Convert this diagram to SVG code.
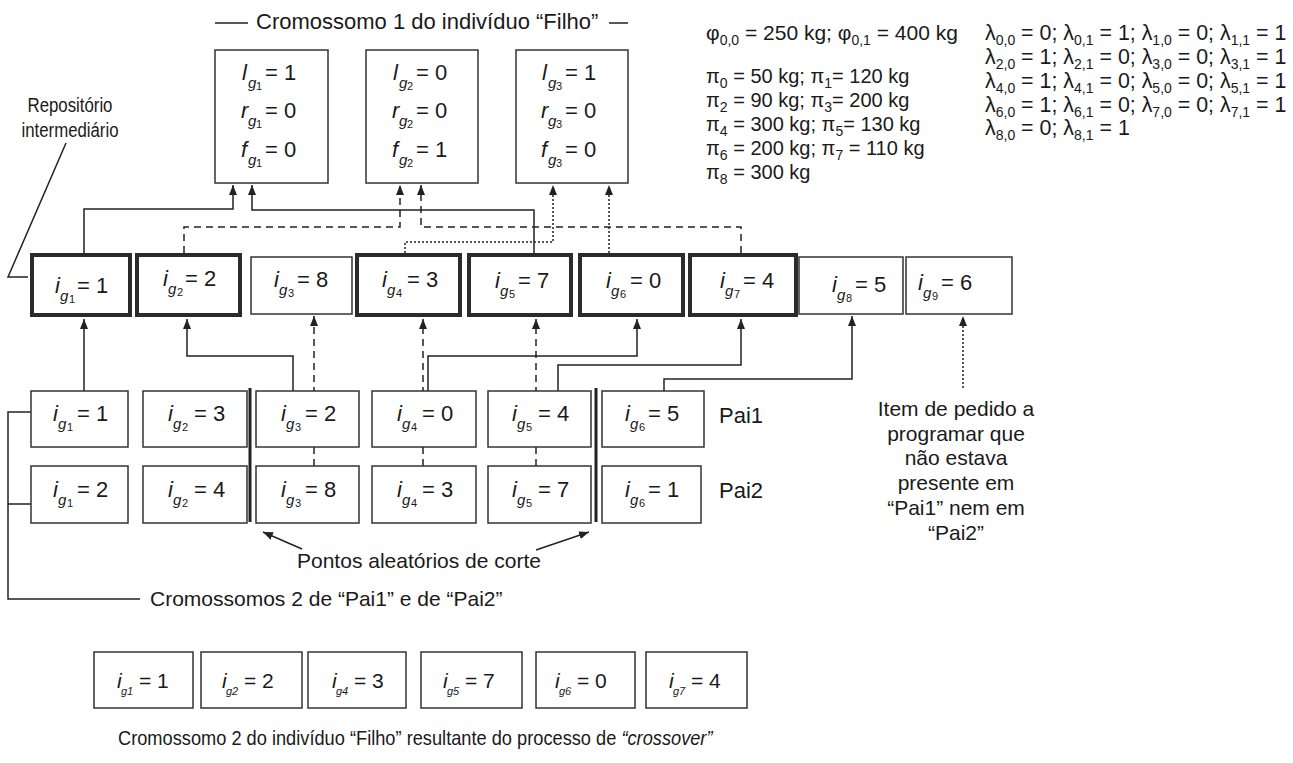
<svg xmlns="http://www.w3.org/2000/svg" width="1293" height="763" viewBox="0 0 1293 763">
<style>
.bg{fill:#fff}
.box{fill:#fff;stroke:#333;stroke-width:1.5}
.tbox{fill:#fff;stroke:#2b2b2b;stroke-width:4}
.t{font-family:"Liberation Sans",Arial,sans-serif;font-size:22px;fill:#1a1a1a}
.s{font-family:"Liberation Sans",Arial,sans-serif;font-size:21px;fill:#1a1a1a}
.f{font-family:"Liberation Sans",Arial,sans-serif;font-size:21px;fill:#1a1a1a}
.fp{font-family:"Liberation Sans",Arial,sans-serif;font-size:20px;fill:#1a1a1a}
.fl{font-family:"Liberation Sans",Arial,sans-serif;font-size:21.4px;fill:#1a1a1a}
.sub{font-size:14px}
.it{font-style:italic}
.sg{font-size:15px;font-style:italic}
.sd{font-size:11px}
.sb{font-size:11px;font-style:italic}
.c{fill:none;stroke:#222;stroke-width:1.5}
.ca{fill:none;stroke:#222;stroke-width:1.5;marker-end:url(#ah)}
.dash{stroke-dasharray:7 5}
.dot{stroke-dasharray:2 2}
.cut{stroke:#222;stroke-width:3}
</style>
<defs>
<marker id="ah" viewBox="0 0 10 8" refX="10" refY="4" markerWidth="10" markerHeight="8" markerUnits="userSpaceOnUse" orient="auto">
<path d="M0,0 L10,4 L0,8 z" fill="#222"/>
</marker>
</defs>
<rect class="bg" width="1293" height="763"/>

<g id="title1">
<path class="c" d="M215,23 H248 M609,23 H628"/>
<text class="t" x="256" y="29">Cromossomo 1 do indivíduo “Filho”</text>
</g>

<g id="filho-g1">
<rect class="box" x="215" y="50" width="113" height="133"/>
<text class="t"><tspan x="242" y="80" class="it">l</tspan><tspan x="248" y="88" class="sg">g</tspan><tspan x="256" y="90" class="sd">1</tspan><tspan x="265" y="80">= 1</tspan></text>
<text class="t"><tspan x="241" y="118" class="it">r</tspan><tspan x="248" y="126" class="sg">g</tspan><tspan x="256" y="128" class="sd">1</tspan><tspan x="265" y="118">= 0</tspan></text>
<text class="t"><tspan x="241" y="157" class="it">f</tspan><tspan x="248" y="165" class="sg">g</tspan><tspan x="256" y="167" class="sd">1</tspan><tspan x="265" y="157">= 0</tspan></text>
</g>
<g id="filho-g2">
<rect class="box" x="366" y="50" width="112" height="133"/>
<text class="t"><tspan x="393" y="80" class="it">l</tspan><tspan x="399" y="88" class="sg">g</tspan><tspan x="407" y="90" class="sd">2</tspan><tspan x="416" y="80">= 0</tspan></text>
<text class="t"><tspan x="392" y="118" class="it">r</tspan><tspan x="399" y="126" class="sg">g</tspan><tspan x="407" y="128" class="sd">2</tspan><tspan x="416" y="118">= 0</tspan></text>
<text class="t"><tspan x="392" y="157" class="it">f</tspan><tspan x="399" y="165" class="sg">g</tspan><tspan x="407" y="167" class="sd">2</tspan><tspan x="416" y="157">= 1</tspan></text>
</g>
<g id="filho-g3">
<rect class="box" x="516" y="50" width="112" height="133"/>
<text class="t"><tspan x="542" y="80" class="it">l</tspan><tspan x="548" y="88" class="sg">g</tspan><tspan x="556" y="90" class="sd">3</tspan><tspan x="565" y="80">= 1</tspan></text>
<text class="t"><tspan x="541" y="118" class="it">r</tspan><tspan x="548" y="126" class="sg">g</tspan><tspan x="556" y="128" class="sd">3</tspan><tspan x="565" y="118">= 0</tspan></text>
<text class="t"><tspan x="541" y="157" class="it">f</tspan><tspan x="548" y="165" class="sg">g</tspan><tspan x="556" y="167" class="sd">3</tspan><tspan x="565" y="157">= 0</tspan></text>
</g>

<g id="params">
<text class="f" x="706" y="40">φ<tspan class="sub" dy="5">0,0</tspan><tspan dy="-5"> = 250 kg; φ</tspan><tspan class="sub" dy="5">0,1</tspan><tspan dy="-5"> = 400 kg</tspan></text>
<text class="fp" x="706" y="83">π<tspan class="sub" dy="5">0</tspan><tspan dy="-5"> = 50 kg; π</tspan><tspan class="sub" dy="5">1</tspan><tspan dy="-5">= 120 kg</tspan></text>
<text class="fp" x="706" y="107">π<tspan class="sub" dy="5">2</tspan><tspan dy="-5"> = 90 kg; π</tspan><tspan class="sub" dy="5">3</tspan><tspan dy="-5">= 200 kg</tspan></text>
<text class="fp" x="706" y="131">π<tspan class="sub" dy="5">4</tspan><tspan dy="-5"> = 300 kg; π</tspan><tspan class="sub" dy="5">5</tspan><tspan dy="-5">= 130 kg</tspan></text>
<text class="fp" x="706" y="155">π<tspan class="sub" dy="5">6</tspan><tspan dy="-5"> = 200 kg; π</tspan><tspan class="sub" dy="5">7</tspan><tspan dy="-5"> = 110 kg</tspan></text>
<text class="fp" x="706" y="179">π<tspan class="sub" dy="5">8</tspan><tspan dy="-5"> = 300 kg</tspan></text>
<text class="fl" x="985" y="40">λ<tspan class="sub" dy="5">0,0</tspan><tspan dy="-5"> = 0; λ</tspan><tspan class="sub" dy="5">0,1</tspan><tspan dy="-5"> = 1; λ</tspan><tspan class="sub" dy="5">1,0</tspan><tspan dy="-5"> = 0; λ</tspan><tspan class="sub" dy="5">1,1</tspan><tspan dy="-5"> = 1</tspan></text>
<text class="fl" x="985" y="64">λ<tspan class="sub" dy="5">2,0</tspan><tspan dy="-5"> = 1; λ</tspan><tspan class="sub" dy="5">2,1</tspan><tspan dy="-5"> = 0; λ</tspan><tspan class="sub" dy="5">3,0</tspan><tspan dy="-5"> = 0; λ</tspan><tspan class="sub" dy="5">3,1</tspan><tspan dy="-5"> = 1</tspan></text>
<text class="fl" x="985" y="88">λ<tspan class="sub" dy="5">4,0</tspan><tspan dy="-5"> = 1; λ</tspan><tspan class="sub" dy="5">4,1</tspan><tspan dy="-5"> = 0; λ</tspan><tspan class="sub" dy="5">5,0</tspan><tspan dy="-5"> = 0; λ</tspan><tspan class="sub" dy="5">5,1</tspan><tspan dy="-5"> = 1</tspan></text>
<text class="fl" x="985" y="112">λ<tspan class="sub" dy="5">6,0</tspan><tspan dy="-5"> = 1; λ</tspan><tspan class="sub" dy="5">6,1</tspan><tspan dy="-5"> = 0; λ</tspan><tspan class="sub" dy="5">7,0</tspan><tspan dy="-5"> = 0; λ</tspan><tspan class="sub" dy="5">7,1</tspan><tspan dy="-5"> = 1</tspan></text>
<text class="fl" x="985" y="135">λ<tspan class="sub" dy="5">8,0</tspan><tspan dy="-5"> = 0; λ</tspan><tspan class="sub" dy="5">8,1</tspan><tspan dy="-5"> = 1</tspan></text>
</g>

<g id="repo-label">
<text class="s" transform="translate(70,112) scale(0.8,1)" text-anchor="middle">Repositório</text>
<text class="s" transform="translate(70,137) scale(0.8,1)" text-anchor="middle">intermediário</text>
<path class="c" d="M66,143 L8,277 H28"/>
</g>

<g id="connectors">
<path class="ca" d="M84,253 V209 H233 V185"/>
<path class="ca" d="M534,253 V210 H252 V185"/>
<path class="ca dash" d="M184,253 V227 H400 V185"/>
<path class="ca dash" d="M741,253 V227 H421 V185"/>
<path class="ca dot" d="M405,253 V242 H553 V185"/>
<path class="ca dot" d="M609,253 V185"/>
<path class="ca" d="M84,391 V319"/>
<path class="ca" d="M293,391 V356 H187 V319"/>
<path class="ca dash" d="M314,466 V316"/>
<path class="ca dash" d="M423,466 V319"/>
<path class="ca" d="M428,391 V356 H637 V319"/>
<path class="ca dash" d="M536,466 V319"/>
<path class="ca" d="M558,391 V365 H741 V319"/>
<path class="ca" d="M664,391 V379 H852 V316"/>
<path class="ca dot" d="M963,388 V316"/>
<path class="c" d="M31,412 H8 V599 H140 M31,504 H8"/>
<path class="ca" d="M302,549 L263,532"/>
<path class="ca" d="M536,550 L589,532"/>
</g>

<g id="repo-1"><rect class="tbox" x="32" y="255" width="98" height="60"/>
<text class="t"><tspan x="55" y="293" class="it">i</tspan><tspan x="60" y="301" class="sg">g</tspan><tspan x="69" y="303" class="sd">1</tspan><tspan x="77" y="293">= 1</tspan></text></g>
<g id="repo-2"><rect class="tbox" x="137" y="255" width="103" height="60"/>
<text class="t"><tspan x="163" y="286" class="it">i</tspan><tspan x="168" y="294" class="sg">g</tspan><tspan x="177" y="296" class="sd">2</tspan><tspan x="185" y="286">= 2</tspan></text></g>
<g id="repo-3"><rect class="box" x="251" y="257" width="101" height="57"/>
<text class="t"><tspan x="274" y="287" class="it">i</tspan><tspan x="279" y="295" class="sg">g</tspan><tspan x="288" y="297" class="sd">3</tspan><tspan x="297" y="287">= 8</tspan></text></g>
<g id="repo-4"><rect class="tbox" x="357" y="255" width="103" height="60"/>
<text class="t"><tspan x="382" y="287" class="it">i</tspan><tspan x="387" y="295" class="sg">g</tspan><tspan x="396" y="297" class="sd">4</tspan><tspan x="407" y="287">= 3</tspan></text></g>
<g id="repo-5"><rect class="tbox" x="469" y="255" width="102" height="60"/>
<text class="t"><tspan x="495" y="288" class="it">i</tspan><tspan x="500" y="296" class="sg">g</tspan><tspan x="509" y="298" class="sd">5</tspan><tspan x="518" y="288">= 7</tspan></text></g>
<g id="repo-6"><rect class="tbox" x="580" y="255" width="103" height="60"/>
<text class="t"><tspan x="606" y="288" class="it">i</tspan><tspan x="611" y="296" class="sg">g</tspan><tspan x="620" y="298" class="sd">6</tspan><tspan x="630" y="288">= 0</tspan></text></g>
<g id="repo-7"><rect class="tbox" x="690" y="255" width="106" height="60"/>
<text class="t"><tspan x="720" y="288" class="it">i</tspan><tspan x="725" y="296" class="sg">g</tspan><tspan x="734" y="298" class="sd">7</tspan><tspan x="743" y="288">= 4</tspan></text></g>
<g id="repo-8"><rect class="box" x="799" y="257" width="104" height="57"/>
<text class="t"><tspan x="832" y="292" class="it">i</tspan><tspan x="837" y="300" class="sg">g</tspan><tspan x="846" y="302" class="sd">8</tspan><tspan x="855" y="292">= 5</tspan></text></g>
<g id="repo-9"><rect class="box" x="906" y="257" width="106" height="57"/>
<text class="t"><tspan x="918" y="290" class="it">i</tspan><tspan x="923" y="298" class="sg">g</tspan><tspan x="932" y="300" class="sd">9</tspan><tspan x="941" y="290">= 6</tspan></text></g>

<g id="pai1-1"><rect class="box" x="31" y="391" width="97" height="56"/>
<text class="t"><tspan x="53" y="421" class="it">i</tspan><tspan x="58" y="429" class="sg">g</tspan><tspan x="67" y="431" class="sd">1</tspan><tspan x="77" y="421">= 1</tspan></text></g>
<g id="pai1-2"><rect class="box" x="143" y="391" width="104" height="56"/>
<text class="t"><tspan x="168" y="421" class="it">i</tspan><tspan x="173" y="429" class="sg">g</tspan><tspan x="182" y="431" class="sd">2</tspan><tspan x="194" y="421">= 3</tspan></text></g>
<g id="pai1-3"><rect class="box" x="256" y="391" width="103" height="56"/>
<text class="t"><tspan x="281" y="421" class="it">i</tspan><tspan x="286" y="429" class="sg">g</tspan><tspan x="295" y="431" class="sd">3</tspan><tspan x="305" y="421">= 2</tspan></text></g>
<g id="pai1-4"><rect class="box" x="372" y="391" width="104" height="56"/>
<text class="t"><tspan x="397" y="421" class="it">i</tspan><tspan x="402" y="429" class="sg">g</tspan><tspan x="411" y="431" class="sd">4</tspan><tspan x="422" y="421">= 0</tspan></text></g>
<g id="pai1-5"><rect class="box" x="488" y="391" width="103" height="56"/>
<text class="t"><tspan x="512" y="421" class="it">i</tspan><tspan x="517" y="429" class="sg">g</tspan><tspan x="526" y="431" class="sd">5</tspan><tspan x="538" y="421">= 4</tspan></text></g>
<g id="pai1-6"><rect class="box" x="602" y="391" width="102" height="56"/>
<text class="t"><tspan x="625" y="421" class="it">i</tspan><tspan x="630" y="429" class="sg">g</tspan><tspan x="639" y="431" class="sd">6</tspan><tspan x="648" y="421">= 5</tspan></text></g>
<text id="pai1-label" class="t" x="719" y="423">Pai1</text>

<g id="pai2-1"><rect class="box" x="31" y="466" width="97" height="57"/>
<text class="t"><tspan x="53" y="497" class="it">i</tspan><tspan x="58" y="505" class="sg">g</tspan><tspan x="67" y="507" class="sd">1</tspan><tspan x="77" y="497">= 2</tspan></text></g>
<g id="pai2-2"><rect class="box" x="143" y="466" width="104" height="57"/>
<text class="t"><tspan x="168" y="497" class="it">i</tspan><tspan x="173" y="505" class="sg">g</tspan><tspan x="182" y="507" class="sd">2</tspan><tspan x="194" y="497">= 4</tspan></text></g>
<g id="pai2-3"><rect class="box" x="256" y="466" width="103" height="57"/>
<text class="t"><tspan x="281" y="497" class="it">i</tspan><tspan x="286" y="505" class="sg">g</tspan><tspan x="295" y="507" class="sd">3</tspan><tspan x="305" y="497">= 8</tspan></text></g>
<g id="pai2-4"><rect class="box" x="372" y="466" width="104" height="57"/>
<text class="t"><tspan x="397" y="497" class="it">i</tspan><tspan x="402" y="505" class="sg">g</tspan><tspan x="411" y="507" class="sd">4</tspan><tspan x="422" y="497">= 3</tspan></text></g>
<g id="pai2-5"><rect class="box" x="488" y="466" width="103" height="57"/>
<text class="t"><tspan x="512" y="497" class="it">i</tspan><tspan x="517" y="505" class="sg">g</tspan><tspan x="526" y="507" class="sd">5</tspan><tspan x="538" y="497">= 7</tspan></text></g>
<g id="pai2-6"><rect class="box" x="602" y="466" width="99" height="57"/>
<text class="t"><tspan x="625" y="497" class="it">i</tspan><tspan x="630" y="505" class="sg">g</tspan><tspan x="639" y="507" class="sd">6</tspan><tspan x="648" y="497">= 1</tspan></text></g>
<text id="pai2-label" class="t" x="719" y="498">Pai2</text>

<g id="cut-points">
<path class="cut" d="M250,388 V522 M596,388 V522"/>
<text class="s" x="297" y="568">Pontos aleatórios de corte</text>
</g>
<text id="parents-label" class="s" x="150" y="606">Cromossomos 2 de “Pai1” e de “Pai2”</text>

<g id="note">
<text class="s" text-anchor="middle"><tspan x="956" y="416">Item de pedido a</tspan><tspan x="956" y="441">programar que</tspan><tspan x="956" y="465">não estava</tspan><tspan x="956" y="490">presente em</tspan><tspan x="956" y="515">“Pai1” nem em</tspan><tspan x="956" y="540">“Pai2”</tspan></text>
</g>

<g id="filho2-1"><rect class="box" x="94" y="652" width="99" height="56"/>
<text class="s"><tspan x="117" y="688" class="it">i</tspan><tspan x="121" y="695" class="sb">g1</tspan><tspan x="139" y="688">= 1</tspan></text></g>
<g id="filho2-2"><rect class="box" x="201" y="652" width="101" height="56"/>
<text class="s"><tspan x="222" y="688" class="it">i</tspan><tspan x="226" y="695" class="sb">g2</tspan><tspan x="244" y="688">= 2</tspan></text></g>
<g id="filho2-3"><rect class="box" x="308" y="652" width="98" height="56"/>
<text class="s"><tspan x="332" y="688" class="it">i</tspan><tspan x="336" y="695" class="sb">g4</tspan><tspan x="354" y="688">= 3</tspan></text></g>
<g id="filho2-4"><rect class="box" x="421" y="652" width="101" height="56"/>
<text class="s"><tspan x="443" y="688" class="it">i</tspan><tspan x="447" y="695" class="sb">g5</tspan><tspan x="465" y="688">= 7</tspan></text></g>
<g id="filho2-5"><rect class="box" x="536" y="652" width="99" height="56"/>
<text class="s"><tspan x="555" y="688" class="it">i</tspan><tspan x="559" y="695" class="sb">g6</tspan><tspan x="577" y="688">= 0</tspan></text></g>
<g id="filho2-6"><rect class="box" x="646" y="652" width="101" height="56"/>
<text class="s"><tspan x="669" y="688" class="it">i</tspan><tspan x="673" y="695" class="sb">g7</tspan><tspan x="691" y="688">= 4</tspan></text></g>
<text id="filho2-caption" class="s" transform="translate(118,745) scale(0.868,1)">Cromossomo 2 do indivíduo “Filho” resultante do processo de <tspan class="it">“crossover”</tspan></text>
</svg>
